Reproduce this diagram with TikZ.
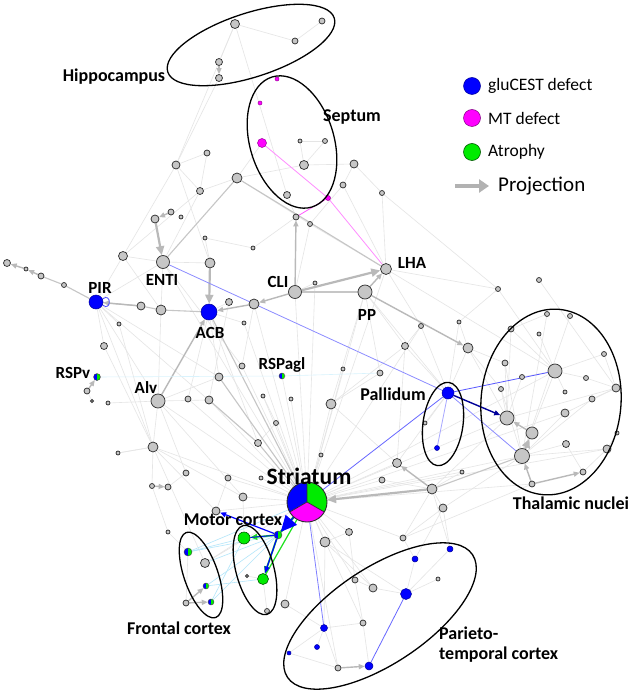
\documentclass[tikz,border=0pt]{standalone}
\usepackage{fontspec}
\setmainfont{Carlito}
\usetikzlibrary{arrows.meta}
\pgfdeclarelayer{bg}
\pgfdeclarelayer{paper}
\pgfsetlayers{paper,bg,main}
\definecolor{grA}{RGB}{30,225,30}
\definecolor{grN}{RGB}{0,235,0}
\definecolor{mgN}{RGB}{255,0,255}
\definecolor{blN}{RGB}{0,0,255}
\begin{document}
\begin{tikzpicture}[x=1pt,y=-1pt,
 gn/.style={circle,inner sep=0pt,minimum size=#1,draw=gray!40!black,fill=gray!45,line width=0.75pt},
 bn/.style={circle,inner sep=0pt,minimum size=#1,draw=blN!60!black,fill=blN,line width=0.5pt},
 mn/.style={circle,inner sep=0pt,minimum size=#1,draw=mgN!60!black,fill=mgN,line width=0.5pt},
 grn/.style={circle,inner sep=0pt,minimum size=#1,draw=green!35!black,fill=grN,line width=0.6pt},
 hn/.style={circle,inner sep=0pt,minimum size=#1,draw=gray!50!black,line width=0.4pt,
   path picture={\fill[blN] (path picture bounding box.south west) rectangle (path picture bounding box.north);
                 \fill[grN] (path picture bounding box.south) rectangle (path picture bounding box.north east);}},
 ef/.style={draw=gray!20,line width=0.6pt},
 em/.style={draw=gray!45,line width=1.1pt},
 ea/.style={draw=gray!55,line width=1.4pt,-{Triangle[length=6pt,width=5pt]}},
 eat/.style={draw=gray!55,line width=2.2pt,-{Triangle[length=9pt,width=8pt]}},
 ec/.style={draw=cyan!30,line width=0.6pt},
 eb/.style={draw=blN!50,line width=0.8pt},
 ell/.style={draw=black,line width=1.3pt},
 lab/.style={font=\bfseries\fontsize{18}{20}\selectfont,inner sep=0pt},
 labs/.style={font=\bfseries\fontsize{17}{19}\selectfont,inner sep=0pt},
 leg/.style={font=\fontsize{17.5}{20}\selectfont,inner sep=0pt,anchor=west}
]
\useasboundingbox (0,0) rectangle (633,692);
\begin{pgfonlayer}{paper}
\fill[white] (0,0) rectangle (633,692);
\end{pgfonlayer}

% ---------- nodes ----------
\node[gn=9] (h1) at (235,24) {};
\node[gn=6] (h2) at (295,41) {};
\node[gn=7] (h3) at (219,62) {};
\node[gn=7] (h4) at (219,78) {};
\node[gn=6] (h5) at (322,21) {};
\node[mn=4] (s1) at (277,79) {};
\node[mn=4] (s2) at (260,103) {};
\node[mn=9] (s3) at (262,143) {};
\node[gn=4] (s4) at (300,141) {};
\node[gn=9] (s5) at (304,165) {};
\node[gn=7] (s6) at (287,195) {};
\node[mn=5] (s7) at (328,198) {};
\node[gn=5] (s8) at (325,141) {};
\node[gn=8] (u1) at (354,164) {};
\node[gn=6] (u2) at (343,185) {};
\node[gn=5] (u3) at (382,193) {};
\node[gn=6] (u4) at (207,153) {};
\node[gn=8] (u5) at (176,165) {};
\node[gn=7] (u6) at (200,191) {};
\node[gn=10] (u7) at (237,178) {};
\node[gn=8] (u8) at (155,219) {};
\node[gn=6] (u9) at (171,212) {};
\node[gn=4] (u10) at (181,217) {};
\node[gn=4] (u11) at (205,238) {};
\node[gn=4] (u12) at (253,248) {};
\node[gn=6] (u13) at (296,217) {};
\node[gn=5] (u14) at (310,224) {};
\node[gn=4] (u15) at (315,283) {};
\node[gn=4] (u16) at (244,323) {};
\node[gn=13] (ENTI) at (163,262) {};
\node[gn=10] (a1) at (210,263) {};
\node[bn=16] (ACB) at (209,312) {};
\node[gn=10] (b1) at (161,310) {};
\node[gn=8] (b2) at (141,306) {};
\node[gn=9] (b3) at (123,256) {};
\node[gn=7] (b4) at (229,302) {};
\node[gn=10] (b5) at (254,304) {};
\node[gn=13] (CLI) at (295,292) {};
\node[gn=11] (LHA) at (386,269) {};
\node[gn=14] (PP) at (365,292) {};
\node[bn=14] (PIR) at (96,302) {};
\node[gn=7] (l1) at (7,263) {};
\node[gn=4] (l2) at (26,269) {};
\node[gn=6] (l3) at (41,276) {};
\node[gn=5] (l4) at (64,285) {};
\node[gn=4] (c1) at (119,324) {};
\node[gn=7] (c2) at (104,346) {};
\node[gn=6] (c4) at (242,366) {};
\node[gn=8] (c5) at (219,377) {};
\node[hn=7] (RSPv) at (97,377) {};
\node[gn=6] (c6) at (87,391) {};
\node[gn=3] (c7) at (92,401) {};
\node[gn=4] (c8) at (108,403) {};
\node[gn=14] (Alv) at (158,401) {};
\node[gn=6] (c9) at (188,399) {};
\node[gn=8] (c10) at (209,400) {};
\node[gn=4] (c11) at (263,396) {};
\node[gn=4] (c12) at (291,399) {};
\node[gn=5] (c13) at (276,423) {};
\node[gn=7] (c14) at (258,443) {};
\node[gn=10] (c15) at (153,447) {};
\node[gn=4] (c16) at (118,453) {};
\node[hn=6] (rsg) at (282,376) {};
\node[gn=4] (c17) at (343,369) {};
\node[gn=6] (c18) at (380,373) {};
\node[gn=10] (c19) at (331,404) {};
\node[gn=4] (c20) at (321,455) {};
\node[gn=6] (c21) at (186,473) {};
\node[gn=5] (c22) at (152,486) {};
\node[gn=6] (c23) at (168,487) {};
\node[gn=6] (c24) at (228,478) {};
\node[gn=4] (c25) at (261,478) {};
\node[gn=8] (c26) at (243,497) {};
\node[gn=8] (c27) at (216,511) {};
\node[gn=4] (c28) at (168,532) {};
\node[gn=5] (r2) at (498,289) {};
\node[gn=5] (r3) at (539,280) {};
\node[gn=5] (r4) at (421,326) {};
\node[gn=4] (r5) at (459,322) {};
\node[gn=7] (r6) at (405,346) {};
\node[gn=10] (r7) at (468,348) {};
\node[gn=9] (r8) at (397,463) {};
\node[gn=6] (r9) at (382,480) {};
\node[gn=10] (r10) at (432,489) {};
\node[gn=8] (r11) at (443,508) {};
\node[gn=4] (r12) at (462,472) {};
\node[bn=12] (PAL) at (448,393) {};
\node[bn=5] (p2) at (437,448) {};
\node[gn=4] (p3) at (425,423) {};
\node[gn=5] (t1) at (547,314) {};
\node[gn=5] (t2) at (570,316) {};
\node[gn=6] (t3) at (511,329) {};
\node[gn=4] (t4) at (539,334) {};
\node[gn=5] (t5) at (604,354) {};
\node[gn=6] (t6) at (505,363) {};
\node[gn=14] (t7) at (555,371) {};
\node[gn=5] (t8) at (522,377) {};
\node[gn=5] (t9) at (586,378) {};
\node[gn=5] (t10) at (501,389) {};
\node[gn=4] (t11) at (565,392) {};
\node[gn=8] (t12) at (616,388) {};
\node[gn=6] (t13) at (592,399) {};
\node[gn=8] (t14) at (565,413) {};
\node[gn=14] (t15) at (507,418) {};
\node[gn=12] (t16) at (532,433) {};
\node[gn=4] (t17) at (617,433) {};
\node[gn=7] (t18) at (566,444) {};
\node[gn=15] (t19) at (522,456) {};
\node[gn=8] (t20) at (607,449) {};
\node[gn=6] (t21) at (583,472) {};
\node[gn=6] (t22) at (532,484) {};
\node[gn=7] (d1) at (349,532) {};
\node[gn=10] (d2) at (325,542) {};
\node[gn=6] (d3) at (403,538) {};
\node[bn=6] (q1) at (450,549) {};
\node[bn=6] (q2) at (415,559) {};
\node[gn=4] (q3) at (438,579) {};
\node[gn=6] (q4) at (355,580) {};
\node[gn=8] (q5) at (373,588) {};
\node[bn=11] (q6) at (406,594) {};
\node[gn=6] (q7) at (363,623) {};
\node[bn=7] (q8) at (324,628) {};
\node[bn=5] (q9) at (317,647) {};
\node[bn=4] (q10) at (289,653) {};
\node[gn=6] (q11) at (338,668) {};
\node[bn=8] (q12) at (369,666) {};
\node[hn=8] (f1) at (188,552) {};
\node[gn=9] (f2) at (205,563) {};
\node[hn=6] (f3) at (206,586) {};
\node[hn=6] (f4) at (211,602) {};
\node[gn=6] (f5) at (186,603) {};
\node[grn=12] (m1) at (244,538) {};
\node[grn=11] (m2) at (263,579) {};
\node[hn=8] (m3) at (278,535) {};
\node[gn=3] (m4) at (247,576) {};
\node[gn=5] (m5) at (267,611) {};
\node[gn=8] (m6) at (285,604) {};
\node[circle,inner sep=0pt,minimum size=40] (STR) at (307,502) {};

% striatum pie
\begin{scope}
\clip (STR.center) circle (20pt);
\fill[blN] (STR.center) -- ([shift={(90:40pt)}]STR.center) -- ([shift={(150:80pt)}]STR.center) -- ([shift={(210:40pt)}]STR.center) -- cycle;
\fill[grN] (STR.center) -- ([shift={(90:40pt)}]STR.center) -- ([shift={(30:80pt)}]STR.center) -- ([shift={(-30:40pt)}]STR.center) -- cycle;
\fill[mgN] (STR.center) -- ([shift={(210:40pt)}]STR.center) -- ([shift={(270:80pt)}]STR.center) -- ([shift={(330:40pt)}]STR.center) -- cycle;
\end{scope}
\draw[gray!35!black,line width=0.7pt] (STR.center) -- ([shift={(90:20pt)}]STR.center)
  (STR.center) -- ([shift={(210:20pt)}]STR.center)
  (STR.center) -- ([shift={(330:20pt)}]STR.center);
\draw[gray!35!black,line width=0.9pt] (STR.center) circle (20pt);

% ---------- edges ----------
\begin{pgfonlayer}{bg}
\foreach \a/\b in {h1/h2, h1/h3, h1/u5, h1/s6, h2/h5, h4/u5, u5/u4, u5/a1, u5/u6, u4/u6, u6/u7,
  u7/u14, u7/s3, u7/s5, s5/u1, s5/s8, s5/s4, s4/s8, u1/u3, u1/u2, u2/u14, u2/LHA, u3/LHA,
  ENTI/b3, ENTI/b1, ENTI/PIR, ENTI/a1, b3/PIR, b3/b1, b1/Alv, PIR/Alv, PIR/c14, PIR/c1, PIR/c15,
  ACB/c5, ACB/c9, ACB/b4, ACB/u16, b5/c4, CLI/STR, PP/c18, PP/r6, PP/c19, LHA/r2, LHA/r4,
  LHA/t7, Alv/c15, Alv/STR, Alv/c21, Alv/c26, c15/c22, c15/c16, c18/c19, c17/STR, c19/STR,
  c11/STR, c12/STR, c13/STR, c24/STR, c25/STR, c26/STR, c27/STR, r8/STR, r9/STR, r10/r11,
  r10/t15, r10/d3, r11/q1, d1/STR, d2/STR, d3/STR, q1/q6, q2/q6, q4/q5, q5/q6, q7/q12,
  q8/q11, q9/q8, q10/q8, STR/q4, STR/q5, STR/q7, STR/q11, d2/q8, f1/f5, f1/c28, f2/STR, f2/m1,
  m6/STR, m5/m2, m6/q8, PAL/r6, PAL/r7, PAL/r8, PAL/p3, t7/t3, t7/t8, t7/t9, t7/t11, t7/t5,
  t7/t19, t19/t14, t19/t13, t19/t20, t19/t10, t19/t6, t15/t12, t14/t12, t13/t12, t21/t20,
  t18/t21, t1/t19, t2/t19, r2/t7, r3/t12, r4/r6, r5/r7, c21/c23, c2/PIR, c6/c7, c4/STR,
  u13/u12, u14/CLI, u12/u11, u11/a1, c9/STR, c10/STR, r6/c19, r12/r10, d1/d2, q3/q6, Alv/c10,
  c15/STR, u6/ENTI, t18/t19, t4/t7, m4/m2, q4/q7, c16/c15, c20/STR, r9/r10, t17/t20, t6/t15,
  c8/Alv, c11/c13, rsg/STR, r4/PAL, c19/r8, u15/CLI, t3/t15, t10/t15, t9/t12, r7/t15, r7/t6,
  PP/STR, ENTI/STR, b5/STR, q2/d3, q5/d2, STR/t19, STR/t15, d3/r11, u3/r2,
  STR/u15, STR/r4, STR/LHA, Alv/c5, PIR/c5, c15/c27, c15/c26, ACB/c14, c2/c15, c15/f2,
  ENTI/c4, b3/u5, u6/b3, s6/u13, u14/LHA, r2/r5, r5/PAL, t8/t15, t10/r7, STR/t7, STR/t14,
  STR/t20, STR/r12, r11/t19, d3/t22, q1/r10, q6/d2, q4/d1, q7/q8, c26/m1, c24/c27, c22/c28,
  q11/q10, c1/c15, c13/c14, u16/STR, b4/c10, r6/r8, PP/PAL, t5/t12, t3/t1, STR/t22, r11/q2}
  \draw[ef] (\a) -- (\b);
% medium gray
\foreach \a/\b in {u7/ENTI, u7/LHA, ACB/STR, c5/STR, c10/c14, c14/STR, b1/ACB, PIR/b2, b2/b1, PIR/l4, l4/l3, r10/t19, CLI/PP}
  \draw[em] (\a) -- (\b);
% gray arrows
\draw[eat] (u8) -- (ENTI);
\draw[eat] (a1) -- (ACB);
\draw[eat] (CLI) -- (LHA);
\draw[ea] (CLI) -- (b5);
\draw[ea] (b5) -- (ACB);
\draw[ea] (b2) -- (PIR);
\draw[ea] (Alv) -- (ACB);
\draw[eat] (r10) -- (STR);
\draw[ea] (r10) -- (r8);
\draw[ea] (PP) -- (r7);
\draw[ea] (c6) -- (RSPv);
\draw[ea] (CLI) -- (u13);
\draw[ea] (l3) -- (l2);
\draw[ea] (l2) -- (l1);
\draw[ea] (t22) -- (t19);
\draw[ea] (t22) -- (t21);
\draw[eat] (t19) -- (t16);
\draw[ea] (t16) -- (t15);
\draw[ea] (q11) -- (q12);
\draw[ea] (f5) -- (f3);
\draw[ea] (f5) -- (f4);
\draw[ea] (h3) -- (h4);
\draw[ea] (c22) -- (c23);
\draw[ea] (u9) -- (u8);
\draw[ea] (PP) -- (LHA);
% magenta
\draw[draw=mgN!45,line width=0.8pt] (s3) -- (s7) -- (LHA);
\draw[draw=mgN!65,line width=0.8pt] (s7) -- (u13);
% blue
\draw[eb,draw=blN!45] (ENTI) -- (PAL);
\draw[eb,draw=blN!65] (PAL) -- (t7);
\draw[draw=blN!60!black,line width=1.4pt,-{Triangle[length=6pt,width=5pt]}] (PAL) -- (t15);
\draw[eb,draw=blN!45] (PAL) -- (t19);
\draw[eb,draw=blN!60] (PAL) -- (STR);
\draw[eb,draw=blN!35] (PAL) -- (p2);
\draw[eb,draw=blN!50] (STR) -- (q8);
\draw[eb,draw=blN!60] (q6) -- (q12);
\draw[blN!70,line width=0.8pt] (PIR.25) .. controls +(9,-7) and +(9,7) .. (PIR.-25);
% cyan
\foreach \a/\b in {f1/m3, f2/m3, f3/m3, f4/m3, f1/m1, f3/m2, f4/m1, f1/STR}
  \draw[ec] (\a) -- (\b);
\draw[draw=cyan!15,line width=0.6pt] (RSPv) -- (rsg);
\draw[draw=cyan!15,line width=0.6pt] (rsg) -- (c18);
% motor cortex arrows
\draw[grA,line width=2.4pt] (STR) -- (m3);
\draw[grA,line width=1.6pt,-{Triangle[length=7pt,width=6pt]}] (m3) -- (m1);
\draw[grA,line width=1.8pt,-{Triangle[length=7pt,width=6pt]}] (m3) -- (m2);
\draw[grA,line width=1.2pt] (STR) -- (m2);
\draw[blN,line width=1.2pt,-{Triangle[length=6pt,width=5pt]}] (m3) -- (c27);
\draw[blN,line width=1.2pt,-{Triangle[length=7pt,width=5pt]}] (m3) -- (m2);
\draw[blN,line width=0.9pt] (m3) -- (m1);
\draw[blN,line width=1.2pt,-{Triangle[length=16pt,width=15pt]}] (STR) -- (m3);
\end{pgfonlayer}

% ---------- ellipses ----------
\draw[ell,rotate around={18:(251,45)}] (251,45) ellipse [x radius=87.5pt,y radius=32pt];
\draw[ell,rotate around={17:(292,142)}] (292,142) ellipse [x radius=42pt,y radius=68pt];
\draw[ell,rotate around={-8:(443,424)}] (443,424) ellipse [x radius=20pt,y radius=42pt];
\draw[ell,rotate around={-5:(551,402)}] (551,402) ellipse [x radius=70pt,y radius=93pt];
\draw[ell,rotate around={19:(201,575)}] (201,575) ellipse [x radius=17pt,y radius=45pt];
\draw[ell,rotate around={15:(255,570)}] (255,570) ellipse [x radius=19pt,y radius=46pt];
\draw[ell,rotate around={33.5:(380,616)}] (380,616) ellipse [x radius=111pt,y radius=48pt];

% ---------- labels ----------
\node[lab] (lhip) at (114,77) {Hippocampus};
\node[lab] (lsep) at (352,117) {Septum};
\node[labs] (lenti) at (162,280) {ENTI};
\node[labs] (lcli) at (278,282) {CLI};
\node[labs] (lacb) at (210,333) {ACB};
\node[labs] (lpp) at (367,315) {PP};
\node[labs] (llha) at (412,263) {LHA};
\node[labs] (lpir) at (100,288) {PIR};
\node[labs] (lalv) at (146,388) {Alv};
\node[labs] (lrspv) at (73,373) {RSPv};
\node[labs] (lrspagl) at (282,365) {RSPagl};
\node[lab] (lpal) at (393,394) {Pallidum};
\node[font=\bfseries\fontsize{23.5}{26}\selectfont,inner sep=0pt] (lstr) at (309,476) {Striatum};
\node[lab] (lthal) at (571,503) {Thalamic nuclei};
\node[lab] (lmot) at (233,520) {Motor cortex};
\node[lab] (lfro) at (179,628) {Frontal cortex};
\node[lab,anchor=west] (lpar1) at (439,633) {Parieto-};
\node[lab,anchor=west] (lpar2) at (439,655) {temporal cortex};

% ---------- legend ----------
\node[bn=17] (lg1) at (472,86) {};
\node[mn=17,draw=mgN!50!black] (lg2) at (472,118) {};
\node[grn=17] (lg3) at (472,152) {};
\node[leg] (lt1) at (488,86) {gluCEST defect};
\node[leg] (lt2) at (488,118) {MT defect};
\node[leg] (lt3) at (488,152) {Atrophy};
\coordinate (pa) at (455,186);
\coordinate (pb) at (489,186);
\draw[draw=gray!60,line width=4.5pt,-{Triangle[length=10pt,width=13pt]}] (pa) -- (pb);
\node[leg,font=\fontsize{21}{24}\selectfont] (lt4) at (498,186) {Projection};
\end{tikzpicture}
\end{document}
